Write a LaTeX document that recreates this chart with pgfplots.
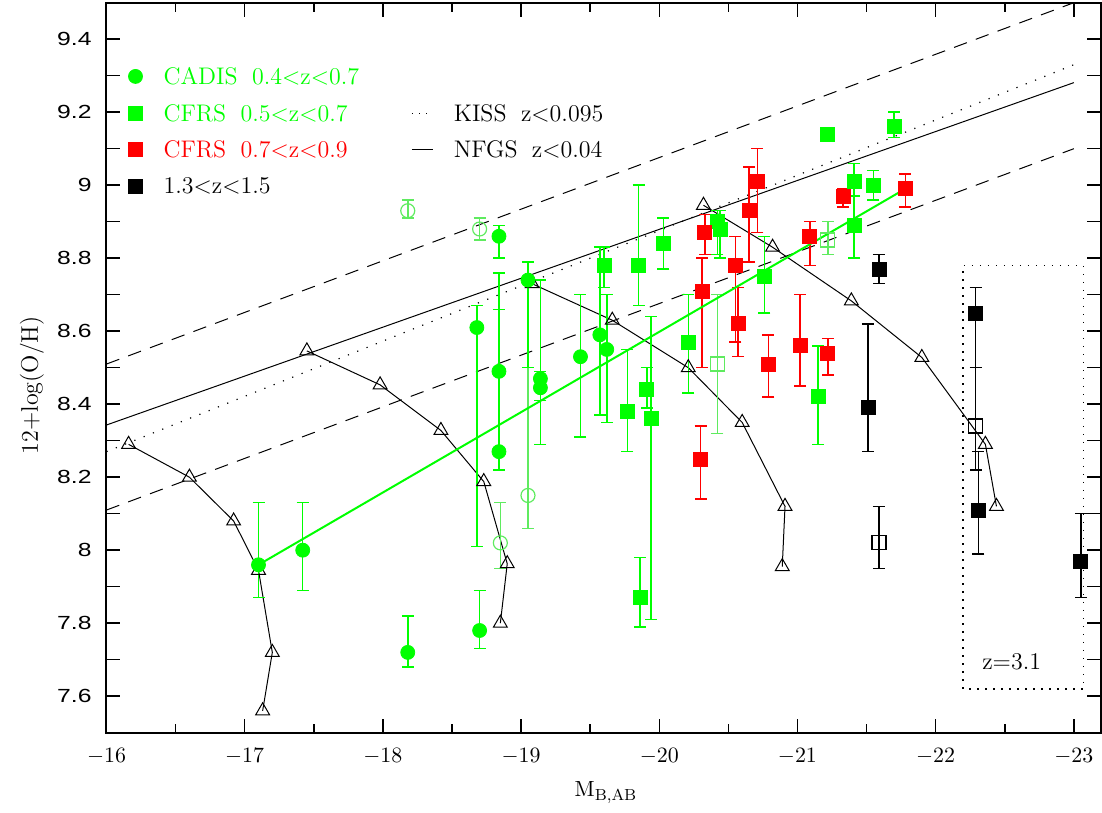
\documentclass[border=0pt]{standalone}
\usepackage{fontspec}
\usepackage{pgfplots}
\pgfplotsset{compat=1.18}
\newfontfamily\ysans{Liberation Sans}
\definecolor{cgreen}{RGB}{0,255,0}
\definecolor{lgreen}{RGB}{95,235,95}
\definecolor{cred}{RGB}{255,0,0}
\newcommand{\yl}[1]{{\ysans\fontsize{9.5}{11}\selectfont\scalebox{1.3}[1]{#1}}}
\newcommand{\legfont}{\fontsize{12}{14}\selectfont}

\pgfplotsset{
  errs/.style={only marks, mark size=3.5pt,
    error bars/y dir=both, error bars/y explicit,
    error bars/error mark=|,
    error bars/error bar style={line width=0.75pt},
    error bars/error mark options={mark size=3pt, line width=0.75pt}},
  track/.style={black, line width=0.5pt, mark=triangle, mark size=4pt, mark options={solid, line width=0.5pt}},
}

\begin{document}
\begin{tikzpicture}
\begin{axis}[
  name=ax, scale only axis, width=497.5pt, height=365pt,
  x dir=reverse, xmin=-23.2, xmax=-16, ymin=7.5, ymax=9.5,
  axis line style={line width=1pt},
  tick align=inside,
  xtick={-16,-17,-18,-19,-20,-21,-22,-23}, minor x tick num=1,
  ytick={7.6,7.7,7.8,7.9,8,8.1,8.2,8.3,8.4,8.5,8.6,8.7,8.8,8.9,9,9.1,9.2,9.3,9.4},
  yticklabels={\yl{7.6},,\yl{7.8},,\yl{8},,\yl{8.2},,\yl{8.4},,\yl{8.6},,\yl{8.8},,\yl{9},,\yl{9.2},,\yl{9.4}},
  major tick length=7pt, minor tick length=4.5pt,
  every tick/.style={black, line width=0.75pt},
  xticklabel style={font=\fontsize{10.95}{13}\selectfont, inner sep=0pt, anchor=north, yshift=-7.6pt},
  yticklabel style={inner sep=0pt, anchor=east, xshift=-7.25pt},
  xlabel={$\mathrm{M}_{\mathrm{B,AB}}$},
  every axis x label/.style={at={(axis description cs:0.502,-0.0877)}, anchor=base, font=\fontsize{10.95}{13}\selectfont},
  ylabel={12+log(O/H)},
  every axis y label/.style={at={(axis description cs:-0.0749,0.476)}, rotate=90, anchor=center, font=\fontsize{12}{14}\selectfont},
  clip=false,
]
% local relations
\addplot[black, line width=0.5pt, dash pattern=on 6.8pt off 4.8pt] coordinates {(-16,8.51) (-23,9.50)};
\addplot[black, line width=0.5pt, dash pattern=on 6.8pt off 4.8pt] coordinates {(-16,8.11) (-23,9.10)};
\addplot[black, line width=0.6pt, dash pattern=on 0.6pt off 4.4pt] coordinates {(-16,8.27) (-23,9.33)};
\addplot[black, line width=0.5pt] coordinates {(-16,8.343) (-23,9.281)};

% model tracks
\addplot[track] coordinates {(-16.16,8.29) (-16.60,8.20) (-16.92,8.08) (-17.10,7.945) (-17.20,7.72) (-17.13,7.56)};
\addplot[track] coordinates {(-17.45,8.546) (-17.98,8.453) (-18.42,8.328) (-18.73,8.188) (-18.90,7.963) (-18.85,7.80)};
\addplot[track] coordinates {(-19.08,8.73) (-19.66,8.63) (-20.21,8.50) (-20.60,8.35) (-20.91,8.12) (-20.89,7.955)};
\addplot[track] coordinates {(-20.32,8.945) (-20.82,8.83) (-21.39,8.683) (-21.90,8.528) (-22.36,8.29) (-22.44,8.12)};

% CADIS 0.4<z<0.7, open
\addplot[errs, mark=o, lgreen, mark options={line width=0.6pt}] coordinates {
  (-18.18,8.93) += (0,0.03) -= (0,0.02)
  (-18.70,8.88) += (0,0.03) -= (0,0.03)
  (-18.85,8.02) += (0,0.11) -= (0,0.07)
  (-19.05,8.15) += (0,0.35) -= (0,0.09)
};
% CADIS 0.4<z<0.7, filled
\addplot[errs, mark=*, cgreen] coordinates {
  (-17.10,7.96) += (0,0.17) -= (0,0.09)
  (-17.42,8.00) += (0,0.13) -= (0,0.11)
  (-18.18,7.72) += (0,0.10) -= (0,0.04)
  (-18.70,7.78) += (0,0.11) -= (0,0.05)
  (-18.68,8.61) += (0,0.06) -= (0,0.60)
  (-18.84,8.86) += (0,0.03) -= (0,0.06)
  (-18.84,8.49) += (0,0.27) -= (0,0.27)
  (-18.84,8.27) += (0,0.39) -= (0,0.05)
  (-19.05,8.74) += (0,0.05) -= (0,0.24)
  (-19.14,8.47) += (0,0.27) -= (0,0.06)
  (-19.14,8.445) += (0,0.045) -= (0,0.155)
  (-19.43,8.53) += (0,0.17) -= (0,0.22)
  (-19.57,8.59) += (0,0.24) -= (0,0.22)
  (-19.62,8.55) += (0,0.15) -= (0,0.20)
};
% CFRS 0.5<z<0.7, open
\addplot[errs, mark=square, lgreen, mark options={line width=0.6pt}] coordinates {
  (-20.42,8.51) += (0,0.19) -= (0,0.19)
  (-21.22,8.85) += (0,0.05) -= (0,0.04)
};
% CFRS 0.5<z<0.7, filled
\addplot[errs, mark=square*, cgreen] coordinates {
  (-19.60,8.78) += (0,0.05) -= (0,0.06)
  (-19.85,8.78) += (0,0.22) -= (0,0.11)
  (-20.03,8.84) += (0,0.07) -= (0,0.07)
  (-19.77,8.38) += (0,0.17) -= (0,0.11)
  (-19.91,8.44) += (0,0.06) -= (0,0.05)
  (-19.94,8.36) += (0,0.28) -= (0,0.55)
  (-19.86,7.87) += (0,0.11) -= (0,0.08)
  (-20.21,8.57) += (0,0.13) -= (0,0.14)
  (-20.42,8.90) += (0,0.03) -= (0,0.09)
  (-20.44,8.88) += (0,0.05) -= (0,0.08)
  (-20.76,8.75) += (0,0.11) -= (0,0.10)
  (-21.15,8.42) += (0,0.14) -= (0,0.13)
  (-21.22,9.14) += (0,0) -= (0,0)
  (-21.41,9.01) += (0,0.05) -= (0,0.04)
  (-21.55,9.00) += (0,0.04) -= (0,0.04)
  (-21.41,8.89) += (0,0.08) -= (0,0.09)
  (-21.70,9.16) += (0,0.04) -= (0,0.03)
};
% CFRS 0.7<z<0.9
\addplot[errs, mark=square*, cred] coordinates {
  (-20.33,8.87) += (0,0.05) -= (0,0.06)
  (-20.31,8.71) += (0,0.09) -= (0,0.21)
  (-20.30,8.25) += (0,0.09) -= (0,0.11)
  (-20.55,8.78) += (0,0.08) -= (0,0.21)
  (-20.57,8.62) += (0,0.10) -= (0,0.09)
  (-20.65,8.93) += (0,0.12) -= (0,0.14)
  (-20.71,9.01) += (0,0.09) -= (0,0.14)
  (-20.79,8.51) += (0,0.08) -= (0,0.09)
  (-21.02,8.56) += (0,0.14) -= (0,0.11)
  (-21.09,8.86) += (0,0.04) -= (0,0.08)
  (-21.22,8.54) += (0,0.04) -= (0,0.06)
  (-21.33,8.97) += (0,0.02) -= (0,0.03)
  (-21.78,8.99) += (0,0.04) -= (0,0.05)
};
% 1.3<z<1.5 and z=3.1
\addplot[errs, mark=square, black, mark options={line width=0.6pt}] coordinates {
  (-22.29,8.34) += (0,0.16) -= (0,0.12)
  (-21.59,8.02) += (0,0.10) -= (0,0.07)
};
\addplot[errs, mark=square*, black] coordinates {
  (-21.59,8.77) += (0,0.04) -= (0,0.04)
  (-21.51,8.39) += (0,0.23) -= (0,0.12)
  (-22.29,8.65) += (0,0.07) -= (0,0.15)
  (-22.31,8.11) += (0,0.16) -= (0,0.12)
  (-23.05,7.97) += (0,0.13) -= (0,0.10)
};

% fit
\addplot[cgreen, line width=1pt] coordinates {(-17.10,7.96) (-21.78,8.99)};

% z=3.1 box
\draw[black, line width=0.8pt, dash pattern=on 0.8pt off 3.2pt] (axis cs:-22.2,7.62) rectangle (axis cs:-23.07,8.78);
\node[font=\legfont] at (axis cs:-22.55,7.694) {z=3.1};

% legend
\addplot[only marks, mark=*, mark size=3.5pt, cgreen] coordinates {(-16.21,9.298)};
\addplot[only marks, mark=square*, mark size=3.5pt, cgreen] coordinates {(-16.21,9.197)};
\addplot[only marks, mark=square*, mark size=3.5pt, cred] coordinates {(-16.21,9.098)};
\addplot[only marks, mark=square*, mark size=3.5pt, black] coordinates {(-16.21,8.997)};
\node[anchor=west, inner sep=0pt, text=cgreen, font=\legfont] at (axis cs:-16.41,9.298) {CADIS\hspace{0.6em}0.4<z<0.7};
\node[anchor=west, inner sep=0pt, text=cgreen, font=\legfont] at (axis cs:-16.41,9.197) {CFRS\hspace{0.6em}0.5<z<0.7};
\node[anchor=west, inner sep=0pt, text=cred, font=\legfont] at (axis cs:-16.41,9.098) {CFRS\hspace{0.6em}0.7<z<0.9};
\node[anchor=west, inner sep=0pt, text=black, font=\legfont] at (axis cs:-16.41,8.997) {1.3<z<1.5};
\addplot[black, line width=0.6pt, dash pattern=on 0.6pt off 3pt] coordinates {(-18.21,9.197) (-18.36,9.197)};
\addplot[black, line width=0.5pt] coordinates {(-18.21,9.098) (-18.36,9.098)};
\node[anchor=west, inner sep=0pt, font=\legfont] at (axis cs:-18.51,9.197) {KISS\hspace{0.6em}z<0.095};
\node[anchor=west, inner sep=0pt, font=\legfont] at (axis cs:-18.51,9.098) {NFGS\hspace{0.6em}z<0.04};
\end{axis}
\pgfresetboundingbox
\path[use as bounding box] ([shift={(-53.25pt,-40.15pt)}]ax.south west) rectangle ([shift={(0.25pt,1.35pt)}]ax.north east);
\end{tikzpicture}
\end{document}
